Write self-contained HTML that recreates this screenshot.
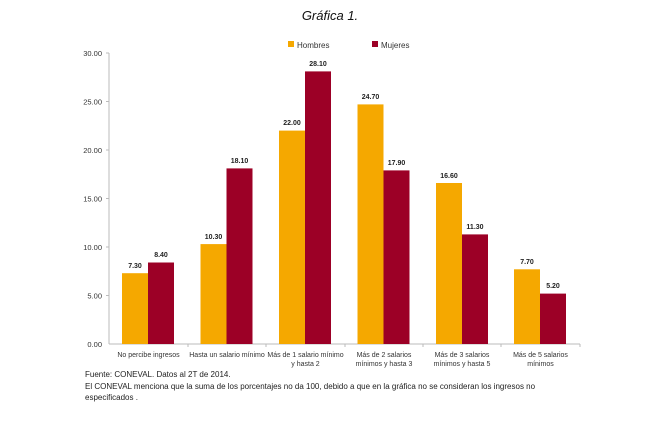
<!DOCTYPE html><html><head><meta charset="utf-8"><style>body{margin:0;background:#fff}</style></head><body>
<svg width="650" height="416" xmlns="http://www.w3.org/2000/svg" font-family="Liberation Sans, sans-serif">
<text x="330" y="20" font-size="13" font-style="italic" text-anchor="middle" fill="#111">Gráfica 1.</text>
<rect x="288" y="41" width="6" height="6" fill="#f5a800"/><text x="297" y="48" font-size="8" fill="#333">Hombres</text>
<rect x="372" y="41" width="6" height="6" fill="#9c0026"/><text x="381" y="48" font-size="8" fill="#333">Mujeres</text>
<g font-size="7.5" fill="#333" text-anchor="end">
<text x="102" y="56">30.00</text><text x="102" y="104.5">25.00</text><text x="102" y="153">20.00</text><text x="102" y="201.5">15.00</text><text x="102" y="250">10.00</text><text x="102" y="298.5">5.00</text><text x="102" y="347">0.00</text></g>
<g stroke="#bbb" stroke-width="1">
<line x1="109" y1="53" x2="109" y2="344"/><line x1="109" y1="344" x2="580" y2="344"/>
<line x1="106" y1="53" x2="109" y2="53"/><line x1="106" y1="101.5" x2="109" y2="101.5"/><line x1="106" y1="150" x2="109" y2="150"/><line x1="106" y1="198.5" x2="109" y2="198.5"/><line x1="106" y1="247" x2="109" y2="247"/><line x1="106" y1="295.5" x2="109" y2="295.5"/>
<line x1="188" y1="344" x2="188" y2="347"/><line x1="266" y1="344" x2="266" y2="347"/><line x1="345" y1="344" x2="345" y2="347"/><line x1="423" y1="344" x2="423" y2="347"/><line x1="501" y1="344" x2="501" y2="347"/><line x1="580" y1="344" x2="580" y2="347"/></g>
<g>
<rect x="122" y="273.2" width="26" height="70.8" fill="#f5a800"/><rect x="148" y="262.5" width="26" height="81.5" fill="#9c0026"/>
<rect x="200.5" y="244.1" width="26" height="99.9" fill="#f5a800"/><rect x="226.5" y="168.4" width="26" height="175.6" fill="#9c0026"/>
<rect x="279" y="130.6" width="26" height="213.4" fill="#f5a800"/><rect x="305" y="71.4" width="26" height="272.6" fill="#9c0026"/>
<rect x="357.5" y="104.4" width="26" height="239.6" fill="#f5a800"/><rect x="383.5" y="170.4" width="26" height="173.6" fill="#9c0026"/>
<rect x="436" y="183" width="26" height="161" fill="#f5a800"/><rect x="462" y="234.4" width="26" height="109.6" fill="#9c0026"/>
<rect x="514" y="269.3" width="26" height="74.7" fill="#f5a800"/><rect x="540" y="293.6" width="26" height="50.4" fill="#9c0026"/></g>
<g font-size="7" font-weight="bold" fill="#222" text-anchor="middle">
<text x="135" y="268">7.30</text><text x="161" y="257">8.40</text>
<text x="213.5" y="239">10.30</text><text x="239.5" y="163">18.10</text>
<text x="292" y="125">22.00</text><text x="318" y="66">28.10</text>
<text x="370.5" y="99">24.70</text><text x="396.5" y="165">17.90</text>
<text x="449" y="178">16.60</text><text x="475" y="229">11.30</text>
<text x="527" y="264">7.70</text><text x="553" y="288">5.20</text></g>
<g font-size="7" fill="#333" text-anchor="middle">
<text x="148.5" y="357">No percibe ingresos</text>
<text x="227" y="357">Hasta un salario mínimo</text>
<text x="305.5" y="357">Más de 1 salario mínimo</text><text x="305.5" y="366">y hasta 2</text>
<text x="384" y="357">Más de 2 salarios</text><text x="384" y="366">mínimos y hasta 3</text>
<text x="462" y="357">Más de 3 salarios</text><text x="462" y="366">mínimos y hasta 5</text>
<text x="540.5" y="357">Más de 5 salarios</text><text x="540.5" y="366">mínimos</text></g>
<g font-size="8" fill="#222">
<text x="85" y="377">Fuente: CONEVAL. Datos al  2T de 2014.</text>
<text x="85" y="389">El CONEVAL menciona que la suma de los porcentajes no da 100, debido a que en la gráfica no se consideran los ingresos no</text>
<text x="85" y="400">especificados .</text></g>
</svg></body></html>
